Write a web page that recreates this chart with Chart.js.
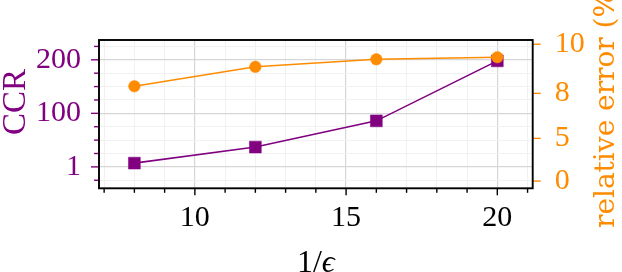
<!DOCTYPE html>
<html>
<head>
<meta charset="utf-8">
<script src="https://cdn.jsdelivr.net/npm/chart.js@4"></script>
<style>
  html, body { margin: 0; padding: 0; background: #fff; }
  canvas { display: block; }
</style>
</head>
<body>
<canvas id="chart" width="622" height="272"></canvas>
<script>
// values
const epsInv = [8, 12, 16, 20]
const ccr = [7, 37, 86, 198]
const relError = [6.93, 8.35, 8.9, 9.05]

// tick labels
const ccrTickLabels = { 0: '1', 100: '100', 200: '200' }
const errTickValues = [0, 3.12, 6.41, 10]
const errTickLabels = ['0', '5', '8', '10']

const purple = '#800080'
const orange = '#ff8c00'
const serif = '"Liberation Serif", "DejaVu Serif", serif'

const majorGrid = '#d6d6d6'
const minorGrid = '#efefef'

const decorations = {
    id: 'decorations',
    afterDraw(chart) {
        const { ctx, chartArea: a, scales } = chart
        ctx.save()
        ctx.lineWidth = 1.4

        // left ticks (outside)
        ctx.strokeStyle = purple
        scales.y.ticks.forEach(t => {
            const y = scales.y.getPixelForValue(t.value)
            const len = t.value % 100 === 0 ? 8 : 5
            ctx.beginPath()
            ctx.moveTo(a.left - len, y)
            ctx.lineTo(a.left, y)
            ctx.stroke()
        })

        // right ticks
        ctx.strokeStyle = orange
        scales.y2.ticks.forEach(t => {
            const y = scales.y2.getPixelForValue(t.value)
            ctx.beginPath()
            ctx.moveTo(a.right, y)
            ctx.lineTo(a.right + 8, y)
            ctx.stroke()
        })

        // bottom ticks
        ctx.strokeStyle = '#000'
        scales.x.ticks.forEach(t => {
            const x = scales.x.getPixelForValue(t.value)
            const len = t.value % 5 === 0 ? 7 : 4.5
            ctx.beginPath()
            ctx.moveTo(x, a.bottom)
            ctx.lineTo(x, a.bottom + len)
            ctx.stroke()
        })

        // frame
        ctx.lineWidth = 1.9
        ctx.strokeRect(a.left, a.top, a.right - a.left, a.bottom - a.top)

        // axis titles
        ctx.textBaseline = 'alphabetic'
        ctx.fillStyle = '#000'
        ctx.font = '32px ' + serif
        const w1 = ctx.measureText('1/').width
        ctx.font = 'italic 32px ' + serif
        const w2 = ctx.measureText('ϵ').width
        const cx = (a.left + a.right) / 2
        ctx.textAlign = 'left'
        ctx.font = '32px ' + serif
        ctx.fillText('1/', cx - (w1 + w2) / 2, 272)
        ctx.font = 'italic 32px ' + serif
        ctx.fillText('ϵ', cx - (w1 + w2) / 2 + w1, 272)

        ctx.textAlign = 'center'
        ctx.save()
        ctx.translate(25, 102)
        ctx.rotate(-Math.PI / 2)
        ctx.fillStyle = purple
        ctx.font = '33px ' + serif
        ctx.fillText('CCR', 0, 0)
        ctx.restore()

        ctx.save()
        ctx.translate(614, 228)
        ctx.rotate(-Math.PI / 2)
        ctx.fillStyle = orange
        ctx.font = '28px "DejaVu Serif", serif'
        ctx.textAlign = 'left'
        ctx.fillText('relative error (%)', 0, 0)
        ctx.restore()

        ctx.restore()
    }
}

new Chart(document.getElementById('chart'), {
    type: 'line',
    data: {
        datasets: [
            {
                label: 'CCR',
                data: epsInv.map((x, i) => ({ x, y: ccr[i] })),
                yAxisID: 'y',
                borderColor: purple,
                backgroundColor: purple,
                borderWidth: 1.6,
                pointStyle: 'rect',
                pointRadius: 8.4,
                pointBorderWidth: 0.5,
                order: 2,
            },
            {
                label: 'relative error (%)',
                data: epsInv.map((x, i) => ({ x, y: relError[i] })),
                yAxisID: 'y2',
                borderColor: orange,
                backgroundColor: orange,
                borderWidth: 1.6,
                pointStyle: 'circle',
                pointRadius: 5.8,
                pointBorderWidth: 0.5,
                order: 1,
            },
        ]
    },
    options: {
        responsive: false,
        animation: false,
        layout: { padding: { top: 40, left: 0, right: 0, bottom: 0 } },
        plugins: {
            legend: { display: false },
            tooltip: { enabled: false },
        },
        scales: {
            x: {
                type: 'linear',
                position: 'bottom',
                min: 6.83,
                max: 21.17,
                afterFit: s => { s.height = 83.7 },
                border: { display: false },
                grid: {
                    drawTicks: false,
                    color: c => c.tick && c.tick.value % 5 === 0 ? majorGrid : minorGrid,
                    lineWidth: c => c.tick && c.tick.value % 5 === 0 ? 1.2 : 0.9,
                },
                ticks: {
                    stepSize: 1,
                    includeBounds: false,
                    autoSkip: false,
                    maxRotation: 0,
                    padding: 12,
                    color: '#000',
                    font: { family: serif, size: 30 },
                    callback: v => v % 5 === 0 ? String(v) : '',
                },
            },
            y: {
                type: 'linear',
                position: 'left',
                min: -40,
                max: 237,
                afterFit: s => { s.width = 99 },
                border: { display: false },
                grid: {
                    drawTicks: false,
                    color: c => c.tick && c.tick.value % 100 === 0 ? majorGrid : minorGrid,
                    lineWidth: c => c.tick && c.tick.value % 100 === 0 ? 1.2 : 0.9,
                },
                ticks: {
                    stepSize: 25,
                    includeBounds: false,
                    autoSkip: false,
                    padding: 18,
                    color: purple,
                    font: { family: serif, size: 30 },
                    callback: v => ccrTickLabels[v] ?? '',
                },
            },
            y2: {
                type: 'linear',
                position: 'right',
                min: -0.53,
                max: 10.31,
                afterFit: s => { s.width = 89.3 },
                afterBuildTicks: s => { s.ticks = errTickValues.map(value => ({ value })) },
                border: { display: false },
                grid: { display: false, drawTicks: false },
                ticks: {
                    autoSkip: false,
                    padding: 22,
                    color: orange,
                    font: { family: serif, size: 30 },
                    callback: (v, i) => errTickLabels[i],
                },
            },
        },
    },
    plugins: [decorations],
})
</script>
</body>
</html>
